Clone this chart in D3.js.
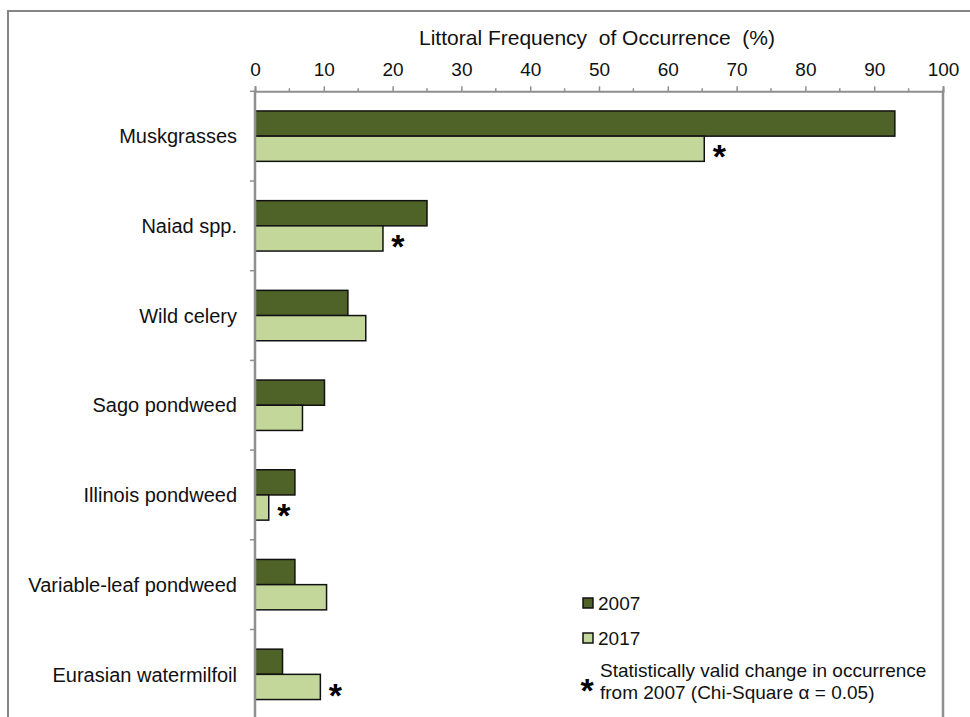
<!DOCTYPE html>
<html>
<head>
<meta charset="utf-8">
<script src="https://cdn.jsdelivr.net/npm/d3@7"></script>
<style>
  html, body { margin: 0; padding: 0; background: #fff; }
  svg { display: block; font-family: "Liberation Sans", Arial, sans-serif; }
</style>
</head>
<body>
<svg id="chart" width="970" height="717"></svg>
<script>
// ---- data ----
const categories = ["Muskgrasses", "Naiad spp.", "Wild celery", "Sago pondweed",
  "Illinois pondweed", "Variable-leaf pondweed", "Eurasian watermilfoil"];
const seriesNames = ["2007", "2017"];
const values2007 = [93.0, 25.0, 13.5, 10.1, 5.8, 5.8, 4.0];
const values2017 = [65.3, 18.6, 16.1, 6.9, 2.0, 10.4, 9.5];
const significant = [true, true, false, false, true, false, true];
const xTicks = [0, 10, 20, 30, 40, 50, 60, 70, 80, 90, 100];
const axisTitle = "Littoral Frequency\u00A0 of Occurrence\u00A0 (%)";
const noteLines = ["Statistically valid change in occurrence", "from 2007 (Chi-Square \u03B1 = 0.05)"];

(function () {
// ---- layout ----
const colors = ["#4f6228", "#c4d79b"];
const axisColor = "#8f8f8f";
const svg = d3.select("#chart");
const pLeft = 255, pRight = 943, pTop = 91.3;
const step = 89.7;
const pBottom = pTop + step * categories.length;
const astSize = 34, astK = 0.49;

const x = d3.scaleLinear().domain([0, 100]).range([pLeft, pRight]);
const y = d3.scaleBand().domain(categories).range([pTop, pBottom]).padding(0);
const ys = d3.scaleBand().domain(seriesNames).range([0, y.bandwidth()])
  .paddingInner(0).paddingOuter(0.78);

// outer frame
svg.append("rect").attr("x", 8).attr("y", 11).attr("width", 1000).attr("height", 1000)
  .attr("fill", "none").attr("stroke", "#858585").attr("stroke-width", 2);

// title
svg.append("text").attr("x", (pLeft + pRight) / 2 - 2).attr("y", 45)
  .attr("text-anchor", "middle").attr("font-size", 21).attr("fill", "#111")
  .style("white-space", "pre").text(axisTitle);

// top axis
const xAxis = d3.axisTop(x).tickValues(xTicks).tickSize(5).tickPadding(10).tickFormat(d3.format("d"));
const gx = svg.append("g").attr("transform", `translate(0,${pTop})`).call(xAxis);
gx.select(".domain").attr("stroke", axisColor).attr("stroke-width", 2);
gx.selectAll(".tick line").attr("stroke", axisColor).attr("stroke-width", 1.5);
gx.selectAll(".tick text").attr("font-size", 19).attr("fill", "#111")
  .attr("font-family", "Liberation Sans, Arial, sans-serif");
// minor ticks
const minor = d3.range(5, 100, 10);
svg.append("g").selectAll("line").data(minor).join("line")
  .attr("x1", d => x(d)).attr("x2", d => x(d))
  .attr("y1", pTop - 3).attr("y2", pTop)
  .attr("stroke", axisColor).attr("stroke-width", 1.5);

// right border of plot
svg.append("line").attr("x1", pRight).attr("x2", pRight).attr("y1", pTop - 1).attr("y2", 760)
  .attr("stroke", axisColor).attr("stroke-width", 2.5);

// bars
const groups = svg.append("g").selectAll("g").data(categories).join("g")
  .attr("transform", d => `translate(0,${y(d)})`);
groups.each(function(cat, i) {
  const g = d3.select(this);
  const vals = [values2007[i], values2017[i]];
  g.selectAll("rect").data(vals).join("rect")
    .attr("x", x(0))
    .attr("y", (v, j) => ys(seriesNames[j]))
    .attr("width", v => x(v) - x(0))
    .attr("height", ys.bandwidth())
    .attr("fill", (v, j) => colors[j])
    .attr("stroke", "#111").attr("stroke-width", 1.5);
  if (significant[i]) {
    const cy = ys(seriesNames[1]) + ys.bandwidth() / 2 + 3;
    g.append("text").attr("x", x(values2017[i]) + 15).attr("y", cy + astK * astSize)
      .attr("text-anchor", "middle").attr("font-size", astSize).attr("font-weight", "bold")
      .attr("fill", "#000").text("*");
  }
});

// left axis
const yAxis = d3.axisLeft(y).tickSize(0).tickPadding(18);
const gy = svg.append("g").attr("transform", `translate(${pLeft},0)`).call(yAxis);
gy.select(".domain").remove();
gy.selectAll(".tick text").attr("font-size", 20).attr("fill", "#111")
  .attr("font-family", "Liberation Sans, Arial, sans-serif").attr("dy", "0.36em");
// boundary ticks
const bounds = d3.range(categories.length + 1).map(i => pTop + i * y.step());
svg.append("g").selectAll("line").data(bounds).join("line")
  .attr("x1", pLeft - 5).attr("x2", pLeft).attr("y1", d => d).attr("y2", d => d)
  .attr("stroke", axisColor).attr("stroke-width", 1.5);
svg.append("line").attr("x1", pLeft).attr("x2", pLeft).attr("y1", pTop - 1).attr("y2", 760)
  .attr("stroke", axisColor).attr("stroke-width", 2.5);

// legend
const legend = svg.append("g");
const legY = [603, 638];
seriesNames.forEach((s, j) => {
  legend.append("rect").attr("x", 583).attr("y", legY[j] - 5).attr("width", 10).attr("height", 10)
    .attr("fill", colors[j]).attr("stroke", "#111").attr("stroke-width", 1.5);
  legend.append("text").attr("x", 598).attr("y", legY[j] + 6.5).attr("font-size", 19)
    .attr("fill", "#111").text(s);
});
legend.append("text").attr("x", 587).attr("y", 685 + astK * astSize).attr("text-anchor", "middle")
  .attr("font-size", astSize).attr("font-weight", "bold").text("*");
noteLines.forEach((t, k) => {
  legend.append("text").attr("x", 600).attr("y", 677 + k * 21.5).attr("font-size", 19)
    .attr("fill", "#111").text(t);
});
})();
</script>
</body>
</html>
